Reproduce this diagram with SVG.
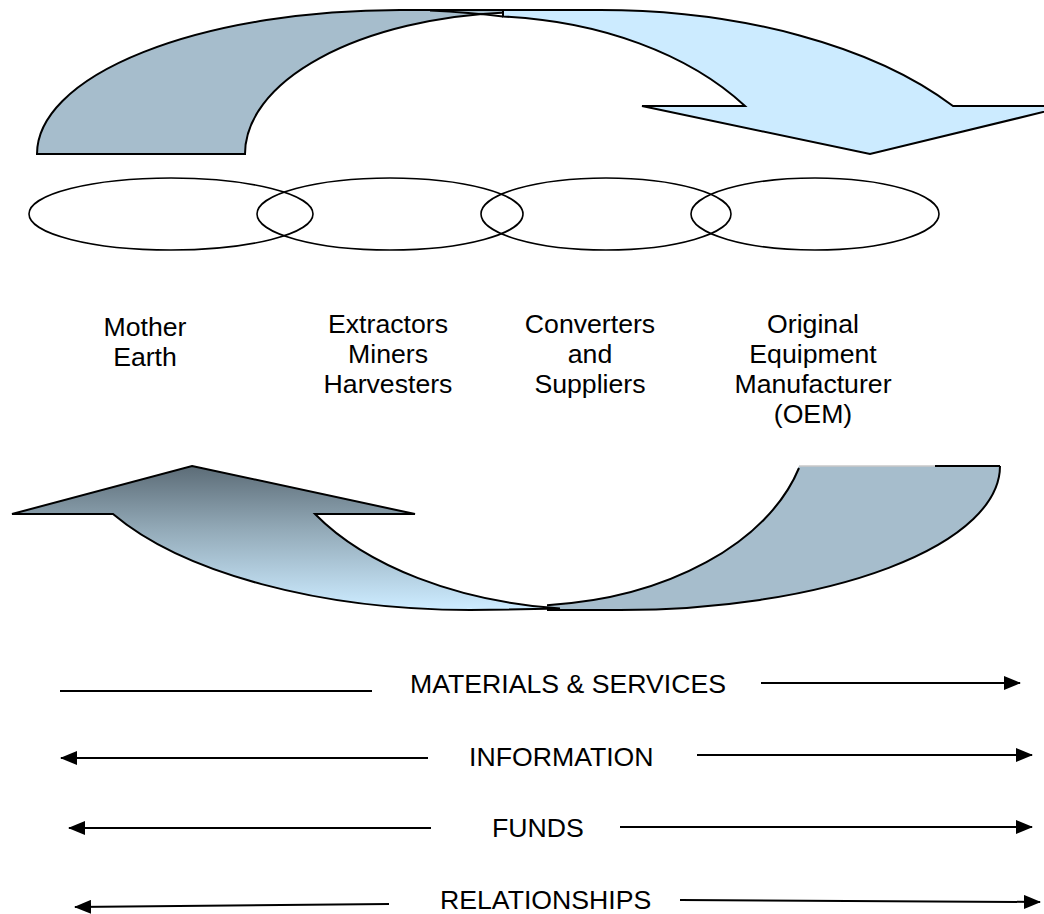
<svg xmlns="http://www.w3.org/2000/svg" width="1044" height="914" viewBox="0 0 1044 914">
<style>
  .lbl { font-family: "Liberation Sans", Arial, sans-serif; font-size: 26.67px; fill: #000; text-anchor: middle; }
  .flow { font-family: "Liberation Sans", Arial, sans-serif; font-size: 26.67px; fill: #000; }
  .ring { fill: none; stroke: #000; stroke-width: 1.6; }
  .edge { fill: none; stroke: #000; stroke-width: 2; stroke-linejoin: miter; }
  .dark { fill: #A6BDCC; }
  .light { fill: #CCEBFF; }
  .conn { fill: none; stroke: #000; stroke-width: 2; }
</style>
<defs>
  <linearGradient id="upgrad" gradientUnits="userSpaceOnUse" x1="0" y1="466" x2="0" y2="608">
    <stop offset="0" stop-color="#5C6C77"/>
    <stop offset="0.45" stop-color="#93AAB8"/>
    <stop offset="1" stop-color="#CCEBFF"/>
  </linearGradient>
  <marker id="ah" viewBox="0 0 17 14" refX="16" refY="7" markerWidth="17" markerHeight="14" orient="auto" markerUnits="userSpaceOnUse">
    <path d="M0,0 L17,7 L0,14 Z" fill="#000"/>
  </marker>
</defs>

<rect width="1044" height="914" fill="#fff"/>

<g id="top-arrow">
  <path class="dark edge" d="M 37 154 A 363 144 0 0 1 400 10 L 505 10 L 505 12.5 A 285 142 0 0 0 245 154 Z"/>
  <path class="light edge" d="M 503 10 L 600 10 A 427 220 0 0 1 953 106 L 1068 106 L 870 154 L 642 106 L 745 106 A 325 214 0 0 0 503 16.5 Z"/>
  <path class="edge" d="M 503 16.5 Q 470 12.5 430 10.5"/>
</g>

<g id="bottom-arrow">
  <path class="dark" d="M 799 466 L 1000 466 A 380 144 0 0 1 620 610 L 547 610 L 547 605.2 A 288 186 0 0 0 799 466 Z"/>
  <path class="edge" d="M 1000 466 A 380 144 0 0 1 620 610 L 547 610"/>
  <path class="edge" d="M 547 605.2 A 288 186 0 0 0 799 468"/>
  <line x1="799" y1="466" x2="935" y2="466" stroke="#C8C8C8" stroke-width="1.5"/>
  <line x1="935" y1="466" x2="1000" y2="466" stroke="#000" stroke-width="2"/>
  <path class="edge" style="fill:url(#upgrad)" d="M 192 466 L 415 514 L 315 514 A 328 190 0 0 0 560 608.6 L 470 610 A 404 180 0 0 1 113 514 L 12 514 Z"/>
</g>

<g id="node-mother-earth">
  <ellipse class="ring" cx="171" cy="214" rx="142" ry="36"/>
  <text class="lbl" x="145" y="336">Mother</text>
  <text class="lbl" x="145" y="366">Earth</text>
</g>
<g id="node-extractors">
  <ellipse class="ring" cx="390" cy="214" rx="133" ry="36"/>
  <text class="lbl" x="388" y="333">Extractors</text>
  <text class="lbl" x="388" y="363">Miners</text>
  <text class="lbl" x="388" y="393">Harvesters</text>
</g>
<g id="node-converters">
  <ellipse class="ring" cx="606" cy="214" rx="125" ry="36"/>
  <text class="lbl" x="590" y="333">Converters</text>
  <text class="lbl" x="590" y="363">and</text>
  <text class="lbl" x="590" y="393">Suppliers</text>
</g>
<g id="node-oem">
  <ellipse class="ring" cx="815" cy="214" rx="124" ry="36"/>
  <text class="lbl" x="813" y="333">Original</text>
  <text class="lbl" x="813" y="363">Equipment</text>
  <text class="lbl" x="813" y="393">Manufacturer</text>
  <text class="lbl" x="813" y="423">(OEM)</text>
</g>

<g id="connectors">
  <line class="conn" x1="60" y1="691" x2="372" y2="691"/>
  <line class="conn" x1="761" y1="683" x2="1020" y2="683" marker-end="url(#ah)"/>

  <line class="conn" x1="428" y1="758" x2="61" y2="758" marker-end="url(#ah)"/>
  <line class="conn" x1="697" y1="755" x2="1032" y2="755" marker-end="url(#ah)"/>

  <line class="conn" x1="431" y1="828" x2="69" y2="828" marker-end="url(#ah)"/>
  <line class="conn" x1="620" y1="827" x2="1032" y2="827" marker-end="url(#ah)"/>

  <line class="conn" x1="389" y1="904" x2="75" y2="907" marker-end="url(#ah)"/>
  <line class="conn" x1="680" y1="900" x2="1040" y2="902" marker-end="url(#ah)"/>
</g>

<g id="flow-labels">
  <text class="flow" x="410" y="693">MATERIALS &amp; SERVICES</text>
  <text class="flow" x="469" y="766">INFORMATION</text>
  <text class="flow" x="492" y="837">FUNDS</text>
  <text class="flow" x="440" y="909">RELATIONSHIPS</text>
</g>
</svg>
